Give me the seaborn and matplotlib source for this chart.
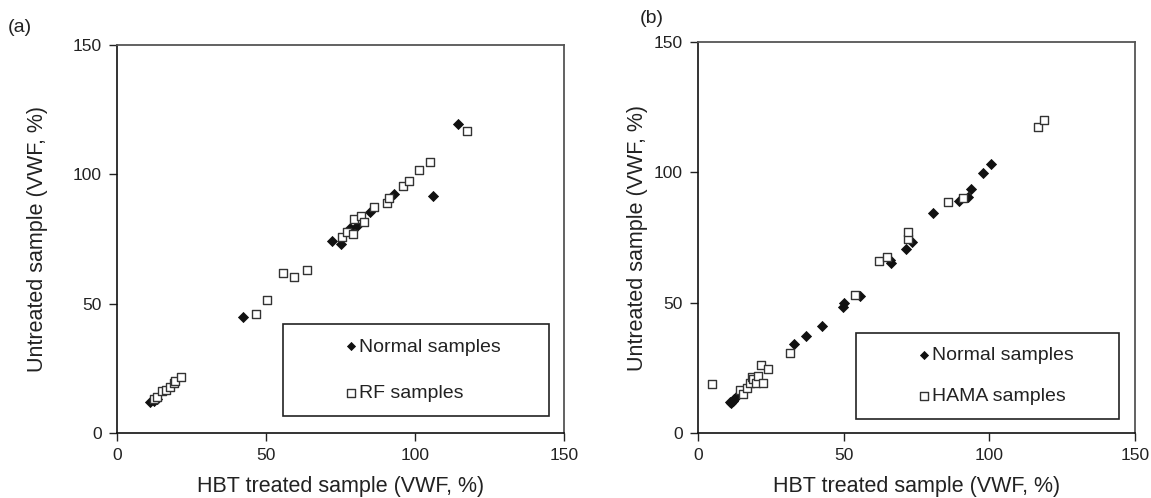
#!/usr/bin/env python3

from matplotlib import pyplot as plt
import pandas as pd
import seaborn as sns

# panel (a): normal vs RF samples
a_normal_x = [11.1, 12.3, 13.5, 42.4, 72.2, 75.2, 78.2, 80.5, 85.0, 93.0, 105.9, 114.3]
a_normal_y = [11.9, 12.4, 13.2, 44.7, 74.3, 72.9, 79.1, 80.0, 85.5, 92.3, 91.7, 119.4]
a_rf_x = [12.5, 13.3, 15.2, 16.5, 17.6, 19.2, 19.5, 21.4, 46.6, 50.3, 55.8, 59.5,
          63.7, 75.6, 77.1, 79.3, 79.6, 81.8, 82.7, 86.2, 90.5, 91.3, 96.1, 97.8,
          101.2, 105.0, 117.3]
a_rf_y = [13.0, 13.8, 16.4, 16.8, 17.7, 19.2, 20.2, 21.5, 45.9, 51.3, 61.7, 60.2,
          63.0, 75.9, 77.8, 76.9, 82.6, 83.9, 81.7, 87.4, 88.8, 90.7, 95.5, 97.5,
          101.7, 104.9, 116.9]

# panel (b): normal vs HAMA samples
b_normal_x = [11.0, 11.5, 12.1, 12.5, 13.0, 33.1, 37.2, 42.5, 49.7, 50.1, 55.6,
              65.8, 66.3, 71.3, 73.4, 80.6, 89.7, 92.6, 93.6, 97.9, 100.6]
b_normal_y = [11.8, 11.5, 12.4, 13.2, 13.9, 34.0, 37.3, 41.2, 48.3, 50.0, 52.6,
              66.5, 65.1, 70.6, 73.1, 84.3, 89.1, 90.6, 93.6, 99.8, 103.1]
b_hama_x = [4.9, 14.4, 15.6, 16.7, 17.9, 18.4, 19.0, 20.0, 20.7, 21.6, 22.2, 24.1,
            31.6, 53.9, 62.2, 64.8, 72.2, 72.2, 85.7, 90.9, 116.6, 118.8]
b_hama_y = [18.7, 16.5, 15.0, 17.3, 19.1, 21.4, 20.8, 19.0, 22.0, 26.0, 19.3, 24.5,
            30.6, 52.9, 66.0, 67.4, 74.4, 77.0, 88.6, 90.3, 117.5, 120.1]

ticks = [0, 50, 100, 150]
x_label = "HBT treated sample (VWF, %)"
y_label = "Untreated sample (VWF, %)"


def panel(ax, nx, ny, sx, sy, sq_label, tag, tag_xy, ylab_xy, leg_box, leg_space):
    normal = pd.DataFrame({"x": nx, "y": ny})
    other = pd.DataFrame({"x": sx, "y": sy})
    sns.scatterplot(data=normal, x="x", y="y", ax=ax, marker="D", s=26,
                    color="#111111", edgecolor="#111111", linewidth=0.6,
                    label="Normal samples", zorder=3)
    sns.scatterplot(data=other, x="x", y="y", ax=ax, marker="s", s=40,
                    color="white", edgecolor="#333333", linewidth=1.0,
                    label=sq_label, zorder=4)

    ax.set(xlim=(0, 150), ylim=(0, 150), xticks=ticks, yticks=ticks)
    ax.set_xlabel(x_label, fontsize=15.5, color="#222222", labelpad=9)
    ax.set_ylabel(y_label, fontsize=15.5, color="#222222")
    ax.yaxis.set_label_coords(*ylab_xy)
    ax.tick_params(direction="out", length=6, width=1.0, labelsize=12.5,
                   colors="#222222", pad=5)
    for side in ["left", "bottom"]:
        ax.spines[side].set_color("#111111")
        ax.spines[side].set_linewidth(1.2)
    for side in ["top", "right"]:
        ax.spines[side].set_visible(True)
        ax.spines[side].set_color("#555555")
        ax.spines[side].set_linewidth(1.3)

    leg = ax.legend(loc="lower left", bbox_to_anchor=leg_box, mode="expand",
                    fontsize=14, frameon=True, fancybox=False,
                    edgecolor="#222222", framealpha=1, borderpad=0.7,
                    labelspacing=leg_space, handlelength=5.6,
                    handletextpad=-2.4, markerscale=0.8, borderaxespad=0)
    leg.get_frame().set_linewidth(1.2)
    for t in leg.get_texts():
        t.set_color("#222222")

    ax.text(tag_xy[0], tag_xy[1], tag, transform=ax.transAxes,
            fontsize=14, color="#222222", ha="left", va="center")


def main():
    sns.set_style("ticks")
    plt.rcParams["font.family"] = ["Liberation Sans", "DejaVu Sans"]

    fig = plt.figure(figsize=(11.51, 4.98), dpi=100)
    ax_a = fig.add_axes([0.1017, 0.1305, 0.3884, 0.779])
    ax_b = fig.add_axes([0.6064, 0.1305, 0.3797, 0.785])

    panel(ax_a, a_normal_x, a_normal_y, a_rf_x, a_rf_y, "RF samples", "(a)",
          (-0.244, 1.046), (-0.154, 0.5), (0.371, 0.044, 0.595, 0.227), 1.5)
    panel(ax_b, b_normal_x, b_normal_y, b_hama_x, b_hama_y, "HAMA samples", "(b)",
          (-0.133, 1.061), (-0.114, 0.5), (0.362, 0.036, 0.601, 0.204), 1.2)

    plt.savefig("out.png", dpi=100)


if __name__ == "__main__":
    main()
